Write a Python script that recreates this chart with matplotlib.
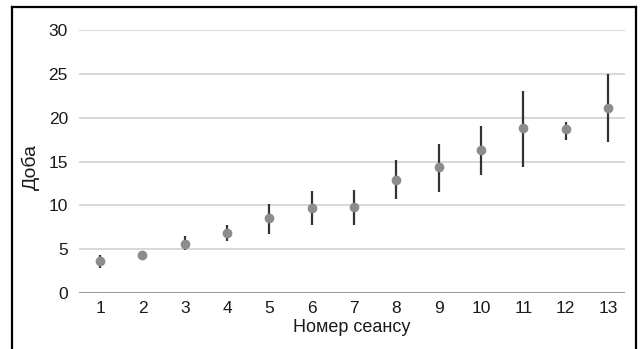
import numpy as np
import matplotlib
matplotlib.use('Agg')
import matplotlib.pyplot as plt
from matplotlib.lines import Line2D

plt.rcParams['font.family'] = ['Liberation Sans', 'DejaVu Sans']

# session numbers and daily values (mean, lower and upper bound)
sessions = list(range(1, 14))
means = [3.6, 4.3, 5.6, 6.9, 8.5, 9.7, 9.8, 12.9, 14.4, 16.3, 18.8, 18.7, 21.1]
lows = [2.8, 3.8, 4.9, 5.9, 6.7, 7.8, 7.8, 10.7, 11.5, 13.5, 14.4, 17.5, 17.2]
highs = [4.3, 4.7, 6.5, 7.7, 10.1, 11.6, 11.8, 15.2, 17.0, 19.1, 23.0, 19.5, 25.0]
yticks = [0, 5, 10, 15, 20, 25, 30]

means = np.array(means)
err = [means - np.array(lows), np.array(highs) - means]

fig = plt.figure(figsize=(6.43, 3.49), dpi=100)
ax = fig.add_axes([79/643, 1 - 293/349, (625 - 79)/643, (293 - 30)/349])

ax.errorbar(sessions, means, yerr=err, fmt='o', color='#8c8c8c', markersize=6,
            ecolor='#333333', elinewidth=1.6, capsize=0, zorder=3)

ax.set_xlim(0.5, 13.4)
ax.set_ylim(0, 30)
ax.set_xticks(sessions)
ax.set_yticks(yticks)
for v in yticks:
    if v == 0:
        ax.axhline(v, color='#9a9a9a', lw=2.2, zorder=2)
    else:
        ax.axhline(v, color='#d6d6d6', lw=1.3, zorder=1)

for s in ax.spines.values():
    s.set_visible(False)
ax.tick_params(length=0, labelsize=12.5, colors='#1a1a1a')
ax.tick_params(axis='y', pad=8)
ax.tick_params(axis='x', pad=6)

ax.set_xlabel('Номер сеансу', fontsize=13, color='#1a1a1a', labelpad=2)
ax.set_ylabel('Доба', fontsize=14, color='#1a1a1a')
ax.yaxis.set_label_coords(-0.072, 0.48)

# black frame around the picture
W, H = 643, 349
fr = dict(color='black', lw=1.6, transform=fig.transFigure)
fig.add_artist(Line2D([12/W, 12/W], [0, 1 - 7/H], **fr))
fig.add_artist(Line2D([12/W, 636/W], [1 - 7/H, 1 - 7/H], **fr))
fig.add_artist(Line2D([636/W, 636/W], [1 - 7/H, 0], **fr))

fig.savefig('out.png', dpi=100)
